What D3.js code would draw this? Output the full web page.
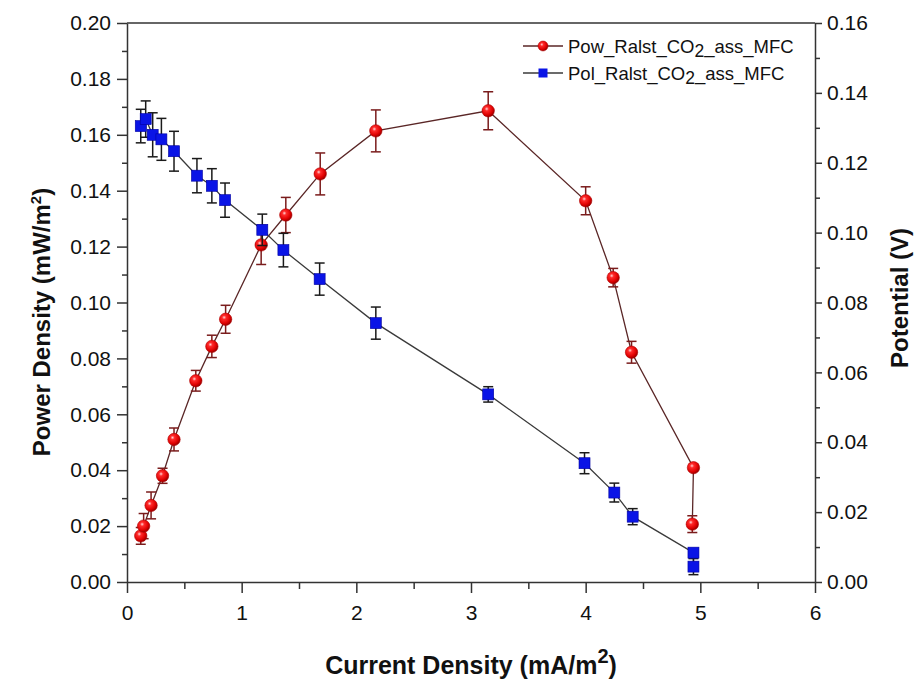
<!DOCTYPE html>
<html>
<head>
<meta charset="utf-8">
<script src="https://cdn.jsdelivr.net/npm/d3@7"></script>
<style>
  html, body { margin: 0; padding: 0; background: #fff; }
  svg { display: block; font-family: "Liberation Sans", Arial, sans-serif; }
</style>
</head>
<body>
<svg id="chart" width="919" height="687"></svg>
<script>
// ---- Data ----
const currentPow = [0.12, 0.145, 0.21, 0.31, 0.41, 0.60, 0.74, 0.86, 1.17, 1.385, 1.685, 2.17, 3.15, 4.00, 4.24, 4.40, 4.94, 4.93];
const powerDensity = [0.0165, 0.020, 0.0274, 0.038, 0.051, 0.072, 0.0843, 0.094, 0.1206, 0.1313, 0.146, 0.1614, 0.1686, 0.1364, 0.1089, 0.0822, 0.0409, 0.0207];
const powerErr = [0.003, 0.0045, 0.0048, 0.0027, 0.0041, 0.0037, 0.004, 0.005, 0.007, 0.0063, 0.0075, 0.0075, 0.0068, 0.005, 0.0033, 0.0039, 0.001, 0.003];

const currentPol = [0.12, 0.163, 0.224, 0.30, 0.41, 0.61, 0.74, 0.855, 1.18, 1.364, 1.68, 2.17, 3.15, 3.99, 4.25, 4.41, 4.94, 4.94];
const potential = [0.1305, 0.1325, 0.128, 0.1267, 0.1233, 0.1163, 0.1134, 0.1093, 0.1008, 0.095, 0.0867, 0.0741, 0.0537, 0.034, 0.0256, 0.0187, 0.0084, 0.0044];
const potentialErr = [0.0048, 0.0052, 0.0063, 0.006, 0.0057, 0.0049, 0.0049, 0.0049, 0.0045, 0.0048, 0.0046, 0.0046, 0.0022, 0.003, 0.0027, 0.0023, 0.001, 0.0023];

const xTicks = [0, 1, 2, 3, 4, 5, 6];
const yLeftTicks = [0, 0.02, 0.04, 0.06, 0.08, 0.10, 0.12, 0.14, 0.16, 0.18, 0.20];
const yRightTicks = [0, 0.02, 0.04, 0.06, 0.08, 0.10, 0.12, 0.14, 0.16];
const seriesNames = ["Pow_Ralst_CO", "Pol_Ralst_CO"];

// ---- Layout ----
const L = 127, R = 815, T = 23, B = 582;
const svg = d3.select("#chart");
const x = d3.scaleLinear().domain([0, 6]).range([L, R]);
const yL = d3.scaleLinear().domain([0, 0.20]).range([B, T]);
const yR = d3.scaleLinear().domain([0, 0.16]).range([B, T]);

const axisColor = "#333";
const fmt2 = d3.format(".2f");

// defs: sphere gradient
const defs = svg.append("defs");
const grad = defs.append("radialGradient").attr("id", "sphere")
  .attr("cx", "38%").attr("cy", "35%").attr("r", "65%");
grad.append("stop").attr("offset", "0%").attr("stop-color", "#ffd6d6");
grad.append("stop").attr("offset", "25%").attr("stop-color", "#ff2a2a");
grad.append("stop").attr("offset", "75%").attr("stop-color", "#dd0000");
grad.append("stop").attr("offset", "100%").attr("stop-color", "#990000");

// ---- Axes ----
function styleAxis(g) {
  g.selectAll("path").attr("stroke", axisColor).attr("stroke-width", 1.5);
  g.selectAll("line").attr("stroke", axisColor).attr("stroke-width", 1.5);
  g.selectAll("text").attr("fill", "#111").style("font-size", "21px");
}

// minor ticks
const xMinor = d3.range(0.5, 6, 1);
const yLMinor = d3.range(0.01, 0.2, 0.02);
const yRMinor = d3.range(0.01, 0.16, 0.02);

svg.append("g").attr("transform", `translate(0,${B})`)
  .call(d3.axisBottom(x).tickValues(xMinor).tickSize(7).tickFormat("").tickSizeOuter(0))
  .call(g => g.select(".domain").remove()).call(styleAxis);
svg.append("g").attr("transform", `translate(0,${B})`)
  .call(d3.axisBottom(x).tickValues(xTicks).tickSize(11).tickPadding(12).tickFormat(d3.format("d")).tickSizeOuter(0))
  .call(styleAxis);

svg.append("g").attr("transform", `translate(${L},0)`)
  .call(d3.axisLeft(yL).tickValues(yLMinor).tickSize(5).tickFormat("").tickSizeOuter(0))
  .call(g => g.select(".domain").remove()).call(styleAxis);
svg.append("g").attr("transform", `translate(${L},0)`)
  .call(d3.axisLeft(yL).tickValues(yLeftTicks).tickSize(10).tickPadding(6).tickFormat(fmt2).tickSizeOuter(0))
  .call(styleAxis);

svg.append("g").attr("transform", `translate(${R},0)`)
  .call(d3.axisRight(yR).tickValues(yRMinor).tickSize(5).tickFormat("").tickSizeOuter(0))
  .call(g => g.select(".domain").remove()).call(styleAxis);
svg.append("g").attr("transform", `translate(${R},0)`)
  .call(d3.axisRight(yR).tickValues(yRightTicks).tickSize(7).tickPadding(5).tickFormat(fmt2).tickSizeOuter(0))
  .call(styleAxis);

// top frame line
svg.append("line").attr("x1", L).attr("x2", R).attr("y1", T).attr("y2", T)
  .attr("stroke", axisColor).attr("stroke-width", 1.5);

// ---- Axis titles ----
const bt = svg.append("text").attr("x", 471).attr("y", 674).attr("text-anchor", "middle")
  .style("font-size", "25px").style("font-weight", "bold").attr("fill", "#111");
bt.append("tspan").text("Current Density (mA/m");
bt.append("tspan").attr("dy", -11).style("font-size", "20px").text("2");
bt.append("tspan").attr("dy", 11).text(")");

const lt = svg.append("text").attr("transform", "translate(50,322) rotate(-90)").attr("text-anchor", "middle")
  .style("font-size", "24px").style("font-weight", "bold").attr("fill", "#111");
lt.append("tspan").text("Power Density (mW/m");
lt.append("tspan").attr("dy", -9).style("font-size", "15px").text("2");
lt.append("tspan").attr("dy", 9).text(")");

svg.append("text").attr("transform", "translate(908,298) rotate(-90)").attr("text-anchor", "middle")
  .style("font-size", "24px").style("font-weight", "bold").attr("fill", "#111").text("Potential (V)");

// ---- Series ----
const powData = currentPow.map((c, i) => ({ x: c, y: powerDensity[i], e: powerErr[i] }));
const polData = currentPol.map((c, i) => ({ x: c, y: potential[i], e: potentialErr[i] }));

const powColorLine = "#5a2626", powColorErr = "#7a1c1c";
const polColorLine = "#3a3a3a", polColorErr = "#1a1a1a";
const cap = 5;

function drawSeries(data, yScale, lineColor, errColor, markerFn) {
  const g = svg.append("g");
  g.append("path").datum(data)
    .attr("d", d3.line().x(d => x(d.x)).y(d => yScale(d.y)))
    .attr("fill", "none").attr("stroke", lineColor).attr("stroke-width", 1.3);
  const eb = g.selectAll("g.err").data(data).join("g").attr("class", "err")
    .attr("stroke", errColor).attr("stroke-width", 1.5);
  eb.append("line").attr("x1", d => x(d.x)).attr("x2", d => x(d.x))
    .attr("y1", d => yScale(d.y + d.e)).attr("y2", d => yScale(d.y - d.e));
  eb.append("line").attr("x1", d => x(d.x) - cap).attr("x2", d => x(d.x) + cap)
    .attr("y1", d => yScale(d.y + d.e)).attr("y2", d => yScale(d.y + d.e));
  eb.append("line").attr("x1", d => x(d.x) - cap).attr("x2", d => x(d.x) + cap)
    .attr("y1", d => yScale(d.y - d.e)).attr("y2", d => yScale(d.y - d.e));
  markerFn(g.selectAll("g.mk").data(data).join("g").attr("class", "mk")
    .attr("transform", d => `translate(${x(d.x)},${yScale(d.y)})`));
}

const redMarker = sel => sel.append("circle").attr("r", 6.2).attr("fill", "url(#sphere)")
  .attr("stroke", "#b00000").attr("stroke-width", 0.6);
const blueMarker = sel => sel.append("rect").attr("x", -5.5).attr("y", -5.5)
  .attr("width", 11).attr("height", 11).attr("fill", "#0a14e6").attr("stroke", "#0000a0").attr("stroke-width", 0.6);

drawSeries(powData, yL, powColorLine, powColorErr, redMarker);
drawSeries(polData, yR, polColorLine, polColorErr, blueMarker);

// ---- Legend ----
const legend = svg.append("g");
const legendRows = [
  { name: seriesNames[0], line: powColorLine, marker: "circle", y: 46 },
  { name: seriesNames[1], line: polColorLine, marker: "square", y: 73 }
];
legendRows.forEach(r => {
  legend.append("line").attr("x1", 523).attr("x2", 563).attr("y1", r.y).attr("y2", r.y)
    .attr("stroke", r.line).attr("stroke-width", 1.5);
  if (r.marker === "circle") {
    legend.append("circle").attr("cx", 543).attr("cy", r.y).attr("r", 5)
      .attr("fill", "url(#sphere)").attr("stroke", "#b00000").attr("stroke-width", 0.5);
  } else {
    legend.append("rect").attr("x", 538.5).attr("y", r.y - 4.5).attr("width", 9).attr("height", 9)
      .attr("fill", "#0a14e6");
  }
  const t = legend.append("text").attr("x", 568).attr("y", r.y + 6.5)
    .style("font-size", "18.5px").attr("fill", "#111");
  t.append("tspan").text(r.name);
  t.append("tspan").attr("dy", 4).style("font-size", "17.5px").text("2");
  t.append("tspan").attr("dy", -4).text("_ass_MFC");
});
</script>
</body>
</html>
